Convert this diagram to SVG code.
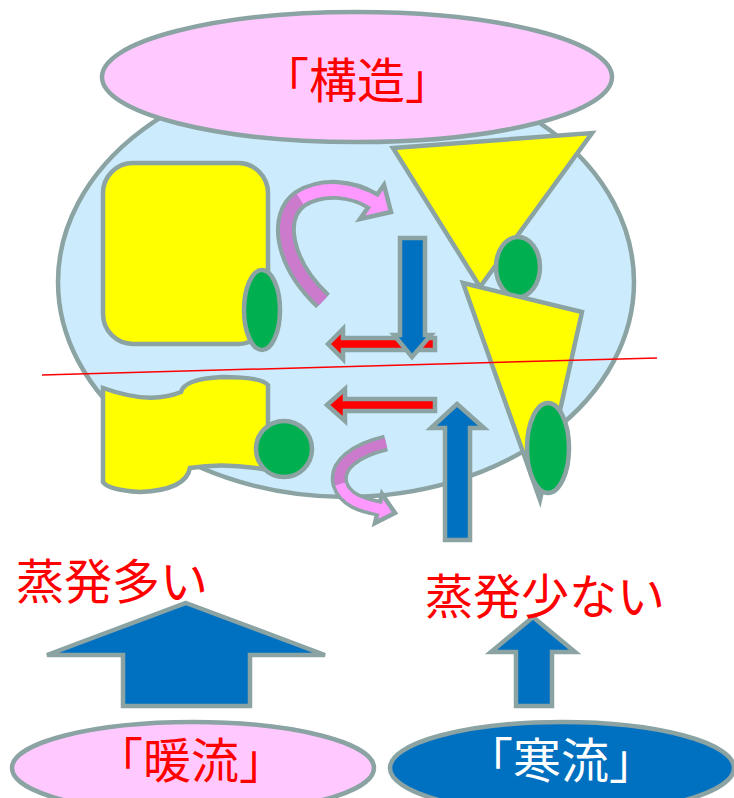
<svg xmlns="http://www.w3.org/2000/svg" width="734" height="798" viewBox="0 0 734 798">
  <style>
    .ol { stroke: #8BA3A3; stroke-width: 4.5; stroke-linejoin: miter; }
    .sky { fill: #CCEBFC; }
    .pinkfill { fill: #FFC9FF; }
    .yel { fill: #FFFF00; }
    .grn { fill: #00B050; }
    .blu { fill: #0070C0; }
    .red { fill: #FF0000; }
    .lbl { font-family: "Noto Sans CJK JP", "Noto Sans CJK SC", sans-serif; font-size: 48px; }
    .band-ol { fill: none; stroke: #8BA3A3; stroke-linecap: butt; }
  </style>

  <!-- body of the structure -->
  <g id="body">
    <ellipse class="sky ol" cx="346" cy="282" rx="288" ry="215"/>
  </g>

  <!-- title ellipse -->
  <g id="structure">
    <ellipse class="pinkfill ol" cx="357" cy="77" rx="255" ry="65"/>
    <text class="lbl" x="357" y="98" text-anchor="middle" fill="#FF0000">「構造」</text>
  </g>

  <!-- upper-left block -->
  <g id="block-upper">
    <rect class="yel ol" x="103" y="163" width="165" height="181" rx="30"/>
    <ellipse class="grn ol" cx="262" cy="310" rx="18" ry="40"/>
  </g>

  <!-- lower-left block -->
  <g id="block-lower">
    <path class="yel ol" d="M103,388 Q150,405 181,392 Q184,379 222,377 Q262,377 268,385 L268,470 Q225,462 190,468 Q186,490 140,492 Q108,490 103,482 Z"/>
    <circle class="grn ol" cx="284" cy="449" r="28"/>
  </g>

  <!-- right-hand triangles -->
  <g id="triangle-upper">
    <polygon class="yel ol" points="393,148 592,133 480,287"/>
    <ellipse class="grn ol" cx="518" cy="267" rx="22" ry="30"/>
  </g>
  <g id="triangle-lower">
    <polygon class="yel ol" points="463,283 582,312 540,500"/>
    <ellipse class="grn ol" cx="548" cy="448" rx="21" ry="45"/>
  </g>

  <!-- divider line -->
  <g id="divider">
    <line x1="42" y1="375" x2="657" y2="358" stroke="#FF0000" stroke-width="1.5"/>
  </g>

  <g id="connectors">
    <!-- curved arrow, upper -->
    <g id="curve-upper">
      <path class="band-ol" stroke-width="20" d="M323,301 C282,262 276,216 300,199 C322,185 352,188 373,201"/>
      <polygon fill="#FF99FF" class="ol" stroke-width="4" points="384,185 391,212 360,219"/>
      <path fill="none" stroke="#CC7ACC" stroke-width="12" d="M323,301 C282,262 276,216 300,199"/>
      <path fill="none" stroke="#FF99FF" stroke-width="12" d="M300,199 C322,185 352,188 376,203"/>
    </g>
    <!-- curved arrow, lower -->
    <g id="curve-lower">
      <path class="band-ol" stroke-width="17" d="M386,443 C356,450 335,465 340,484 C345,500 362,505 378,508"/>
      <polygon fill="#FF99FF" class="ol" stroke-width="4" points="382,494 395,513 375,523"/>
      <path fill="none" stroke="#CC7ACC" stroke-width="10" d="M386,443 C356,450 335,465 340,484"/>
      <path fill="none" stroke="#FF99FF" stroke-width="10" d="M340,484 C345,500 362,505 381,509"/>
    </g>
    <!-- straight arrows inside -->
    <polygon id="red-upper" class="red ol" stroke-width="4" points="328,344 343,329 343,338 435,338 435,350 343,350 343,359"/>
    <polygon id="red-lower" class="red ol" stroke-width="4" points="327,405 345,389 345,399 435,399 435,411 345,411 345,421"/>
    <polygon id="blue-down" class="blu ol" stroke-width="4" points="400,238 425,238 425,335 431,335 412,357 394,335 400,335"/>
    <polygon id="blue-up" class="blu ol" stroke-width="4" points="457,404 484,428 470,428 470,540 445,540 445,428 431,428"/>
    <!-- evaporation arrows -->
    <polygon id="up-large" class="blu ol" stroke-width="4" points="186,603 325,655 250,655 250,706 123,706 123,655 47,655"/>
    <polygon id="up-small" class="blu ol" stroke-width="4" points="533,617 575,652 552,652 552,706 516,706 516,652 491,652"/>
  </g>

  <!-- evaporation labels -->
  <g id="label-more">
    <text class="lbl" x="16" y="599" fill="#FF0000">蒸発多い</text>
  </g>
  <g id="label-less">
    <text class="lbl" x="425" y="614" fill="#FF0000">蒸発少ない</text>
  </g>

  <!-- currents -->
  <g id="warm-current">
    <ellipse class="pinkfill ol" cx="193" cy="768" rx="181" ry="46"/>
    <text class="lbl" x="191" y="778" text-anchor="middle" fill="#FF0000">「暖流」</text>
  </g>
  <g id="cold-current">
    <ellipse class="blu ol" cx="562" cy="768" rx="172" ry="46"/>
    <text class="lbl" x="561" y="778" text-anchor="middle" fill="#FFFFFF">「寒流」</text>
  </g>
</svg>
